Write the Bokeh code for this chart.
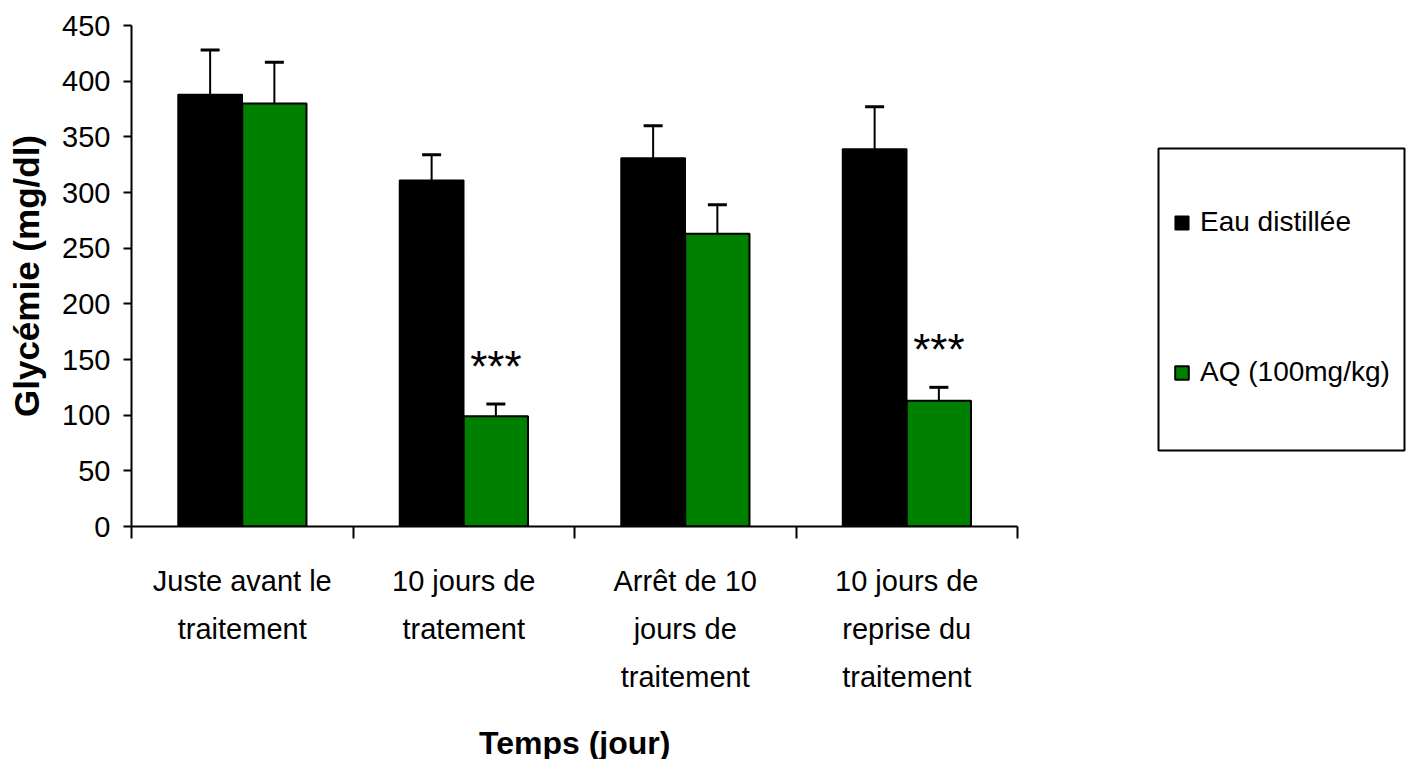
from bokeh.plotting import figure
from bokeh.models import (ColumnDataSource, Range1d, FixedTicker, LinearAxis, Whisker,
                          TeeHead, LabelSet, Legend, LegendItem, BoxAnnotation, Title)
from bokeh.core.properties import value
from bokeh.transform import dodge
from bokeh.embed import file_html
from bokeh.resources import INLINE

# Blood glucose (mg/dl), mean and SEM per period and group
categories = [
    "Juste avant le\ntraitement",
    "10 jours de\ntratement",
    "Arrêt de 10\njours de\ntraitement",
    "10 jours de\nreprise du\ntraitement",
]
eau_mean = [388, 311, 331, 339]
eau_err = [40, 23, 29, 38]
aq_mean = [380, 99, 263, 113]
aq_err = [37, 11, 26, 12]
significance = ["", "***", "", "***"]
y_ticks = [0, 50, 100, 150, 200, 250, 300, 350, 400, 450]
series_names = ["Eau distillée", "AQ (100mg/kg)"]

FONT = "Liberation Sans"
GREEN = "#008000"
BAR_W = 0.29

# the frame also hosts the legend on its right; the category axis covers 886 px of it
CAT_W = 886
FRAME_W = 1275
n = len(categories)

centers = [i + 0.5 for i in range(n)]
boundaries = list(range(n + 1))
src = ColumnDataSource(dict(
    x=centers,
    eau=eau_mean, eau_hi=[m + e for m, e in zip(eau_mean, eau_err)],
    aq=aq_mean, aq_hi=[m + e for m, e in zip(aq_mean, aq_err)],
    sig=significance,
))

p = figure(frame_width=FRAME_W, frame_height=501,
           min_border_left=131, min_border_top=25,
           min_border_right=0, min_border_bottom=233,
           x_range=Range1d(0, n * FRAME_W / CAT_W), y_range=Range1d(0, 450),
           x_axis_location=None, y_axis_location=None,
           output_backend="svg", toolbar_location=None)
p.outline_line_color = None
p.background_fill_color = "white"
p.border_fill_color = "white"
p.xgrid.grid_line_color = None
p.ygrid.grid_line_color = None

x_eau = dodge("x", -BAR_W / 2, range=p.x_range)
x_aq = dodge("x", BAR_W / 2, range=p.x_range)

r_eau = p.vbar(x=x_eau, top="eau", width=BAR_W, source=src,
               fill_color="black", line_color="black", line_width=1.5)
r_aq = p.vbar(x=x_aq, top="aq", width=BAR_W, source=src,
              fill_color=GREEN, line_color="black", line_width=2)

for base, lo, hi in ((x_eau, "eau", "eau_hi"), (x_aq, "aq", "aq_hi")):
    p.add_layout(Whisker(source=src, base=base, lower=lo, upper=hi,
                         line_color="black", line_width=2,
                         upper_head=TeeHead(size=19, line_width=3, line_color="black"),
                         lower_head=None, level="glyph"))

p.add_layout(LabelSet(x=x_aq, y="aq_hi", text="sig", source=src,
                      text_align="center", text_baseline="alphabetic", y_offset=22,
                      text_font=value(FONT), text_font_size="44px", text_color="black"))

# y axis
yax = LinearAxis(ticker=FixedTicker(ticks=y_ticks))
yax.axis_line_width = 2
yax.major_tick_line_width = 2
yax.major_tick_out = 8
yax.major_tick_in = 0
yax.minor_tick_line_color = None
yax.major_label_standoff = 13
yax.major_label_text_font = FONT
yax.major_label_text_font_size = "29px"
yax.major_label_text_color = "black"
yax.axis_label = "Glycémie (mg/dl)"
yax.axis_label_text_font = FONT
yax.axis_label_text_font_style = "bold"
yax.axis_label_text_font_size = "35px"
yax.axis_label_text_color = "black"
yax.axis_label_standoff = 13
p.add_layout(yax, "left")

# x axis: labels at category centres, tick marks at category boundaries
xax = LinearAxis(ticker=FixedTicker(ticks=centers, minor_ticks=boundaries), bounds=(0, n))
xax.major_label_overrides = {c: lab for c, lab in zip(centers, categories)}
xax.axis_line_width = 2
xax.major_tick_line_color = None
xax.major_tick_out = 0
xax.major_tick_in = 0
xax.minor_tick_line_width = 2
xax.minor_tick_out = 12
xax.minor_tick_in = 0
xax.major_label_standoff = 26
xax.major_label_text_font = FONT
xax.major_label_text_font_size = "29px"
xax.major_label_text_color = "black"
xax.major_label_text_line_height = 1.51
p.add_layout(xax, "below")

# x axis title, centred under the category span rather than the whole frame
TITLE_W = 191
p.add_layout(Title(text="Temps (jour)", align="left",
                   offset=(CAT_W - TITLE_W) / 2, standoff=52,
                   text_font=FONT, text_font_style="bold", text_font_size="32px",
                   text_color="black"), "below")

legend = Legend(items=[LegendItem(label=series_names[0], renderers=[r_eau]),
                       LegendItem(label=series_names[1], renderers=[r_aq])],
                location=(1042, 138), orientation="vertical",
                padding=0, margin=0, spacing=118,
                glyph_width=17, glyph_height=17, label_height=32, label_standoff=10,
                label_text_font=FONT, label_text_font_size="28px",
                label_text_color="black",
                border_line_color=None, background_fill_alpha=0)
p.add_layout(legend, "center")

p.add_layout(BoxAnnotation(left=1027, right=1273, bottom=76, top=378,
                           left_units="screen", right_units="screen",
                           bottom_units="screen", top_units="screen",
                           fill_alpha=0, line_color="black", line_alpha=1,
                           line_width=2))

open("out.html", "w").write(file_html(p, INLINE))
